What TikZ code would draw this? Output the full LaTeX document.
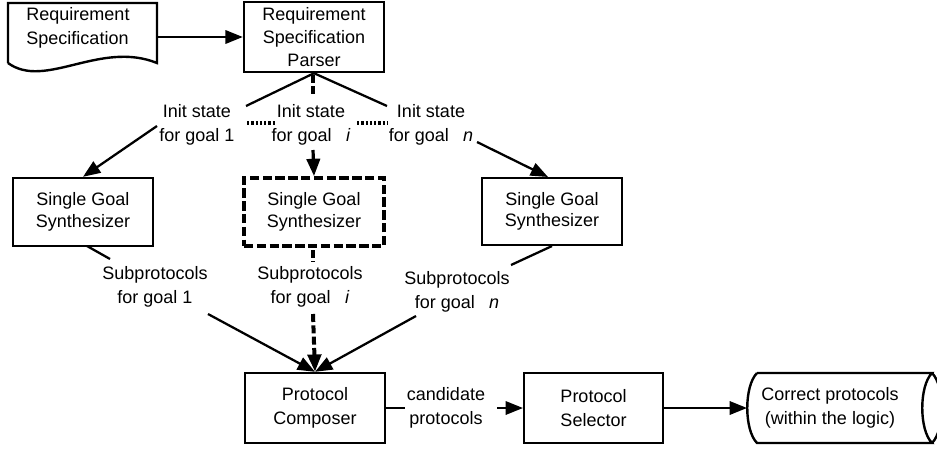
\documentclass[tikz,border=0pt]{standalone}
\usepackage{fontspec}
\setmainfont{Liberation Sans}
\usetikzlibrary{arrows.meta}
\begin{document}
\begin{tikzpicture}[x=0.75pt,y=-0.75pt,
  every node/.style={font=\fontsize{13.5}{17.5}\selectfont, inner sep=0pt},
  box/.style={draw, line width=1.8pt, minimum width=105pt, minimum height=52.5pt, align=center},
  synbox/.style={box, font=\fontsize{13.5}{16}\selectfont, minimum height=51pt},
  dbox/.style={synbox, dash pattern=on 7pt off 2.6pt, line width=2.8pt},
  lbl/.style={align=center, font=\fontsize{13.5}{18}\selectfont},
  conn/.style={line width=1.7pt},
  arr/.style={conn, -{Triangle[length=13pt,width=10pt]}},
  dconn/.style={line width=3pt, dash pattern=on 6pt off 2.5pt},
  darr/.style={dconn, -{Triangle[length=13pt,width=10pt]}},
  dots/.style={line width=2.8pt, dash pattern=on 1.8pt off 1.4pt}
]
\clip (0,0) rectangle (937,450);
\fill[white] (0,0) rectangle (937,450);

% requirement specification document
\draw[line width=1.8pt] (8,63) -- (8,3) -- (157,3) -- (157,63)
  .. controls (100,40) and (45,90) .. (8,63);
\node[align=left] (doc) at (78,28) {Requirement\\Specification};
\coordinate (docR) at (157,37);

% boxes
\node[box] (parser) at (314,37) {Requirement\\Specification\\Parser};
\node[synbox] (syn1) at (83,212) {Single Goal\\Synthesizer};
\node[dbox] (syn2) at (314,212) {Single Goal\\Synthesizer};
\node[synbox, minimum height=50pt] (syn3) at (552,211.5) {Single Goal\\Synthesizer};
\node[box] (comp) at (315,408) {Protocol\\Composer};
\node[box, minimum width=104pt] (sel) at (593.5,408) {Protocol\\Selector};

% output cylinder
\draw[line width=1.8pt] (757,373) -- (932,373)
  .. controls (919,386) and (919,430) .. (932,443) -- (757,443)
  .. controls (744,430) and (744,386) .. (757,373);
\draw[line width=1.8pt] (932,373) .. controls (945,386) and (945,430) .. (932,443);
\node[align=center] (cyl) at (830,408) {Correct protocols\\(within the logic)};
\coordinate (cylL) at (747,408);

% labels
\node[lbl] (init1) at (197,125) {Init state\\for goal 1};
\node[lbl] (init2) at (311,125) {Init state\\for goal\hspace{0.8em}\textit{i}};
\node[lbl] (init3) at (431,125) {Init state\\for goal\hspace{0.8em}\textit{n}};
\node[lbl] (sub1) at (155,287) {Subprotocols\\for goal 1};
\node[lbl] (sub2) at (310,287) {Subprotocols\\for goal\hspace{0.8em}\textit{i}};
\node[lbl] (sub3) at (457,292) {Subprotocols\\for goal\hspace{0.8em}\textit{n}};

% free ends
\coordinate (p1) at (246,106);
\coordinate (p3) at (387,106);
\coordinate (p2a) at (313,75);
\coordinate (p2b) at (313,95);
\coordinate (d1a) at (247,123);
\coordinate (d1b) at (276,123);
\coordinate (d2a) at (357,123);
\coordinate (d2b) at (388,123);
\coordinate (i1) at (157,126);
\coordinate (i2) at (313,150);
\coordinate (i3) at (477,142);
\coordinate (s1a) at (87,246);
\coordinate (s1b) at (110,259);
\coordinate (s2a) at (313,250);
\coordinate (s2b) at (313,262);
\coordinate (s3b) at (511,265);
\coordinate (c1) at (208,314);
\coordinate (c2) at (313,314);
\coordinate (c3) at (416,316);
\coordinate (candL) at (405,408);
\coordinate (candR) at (497,408);
\node[lbl] (cand) at (446,408) {candidate\\protocols};

% connectors
\draw[arr] (docR) -- (parser.west);
\draw[conn] (parser.south) -- (p1);
\draw[conn] (parser.south) -- (p3);
\draw[dconn] (p2a) -- (p2b);
\draw[dots] (d1a) -- (d1b);
\draw[dots] (d2a) -- (d2b);
\draw[arr] (i1) -- (syn1.north);
\draw[arr, line width=2.4pt] (i2) -- (syn2.north);
\draw[arr] (i3) -- ([xshift=-3pt]syn3.north);
\draw[conn] (s1a) -- (s1b);
\draw[dconn] (s2a) -- (s2b);
\draw[conn] (syn3.south) -- (s3b);
\draw[arr] (c1) -- (comp.north);
\draw[darr] (c2) -- (comp.north);
\draw[arr] (c3) -- (comp.north);
\draw[conn] (comp.east) -- (candL);
\draw[arr] (candR) -- (sel.west);
\draw[arr] (sel.east) -- (cylL);
\end{tikzpicture}
\end{document}
